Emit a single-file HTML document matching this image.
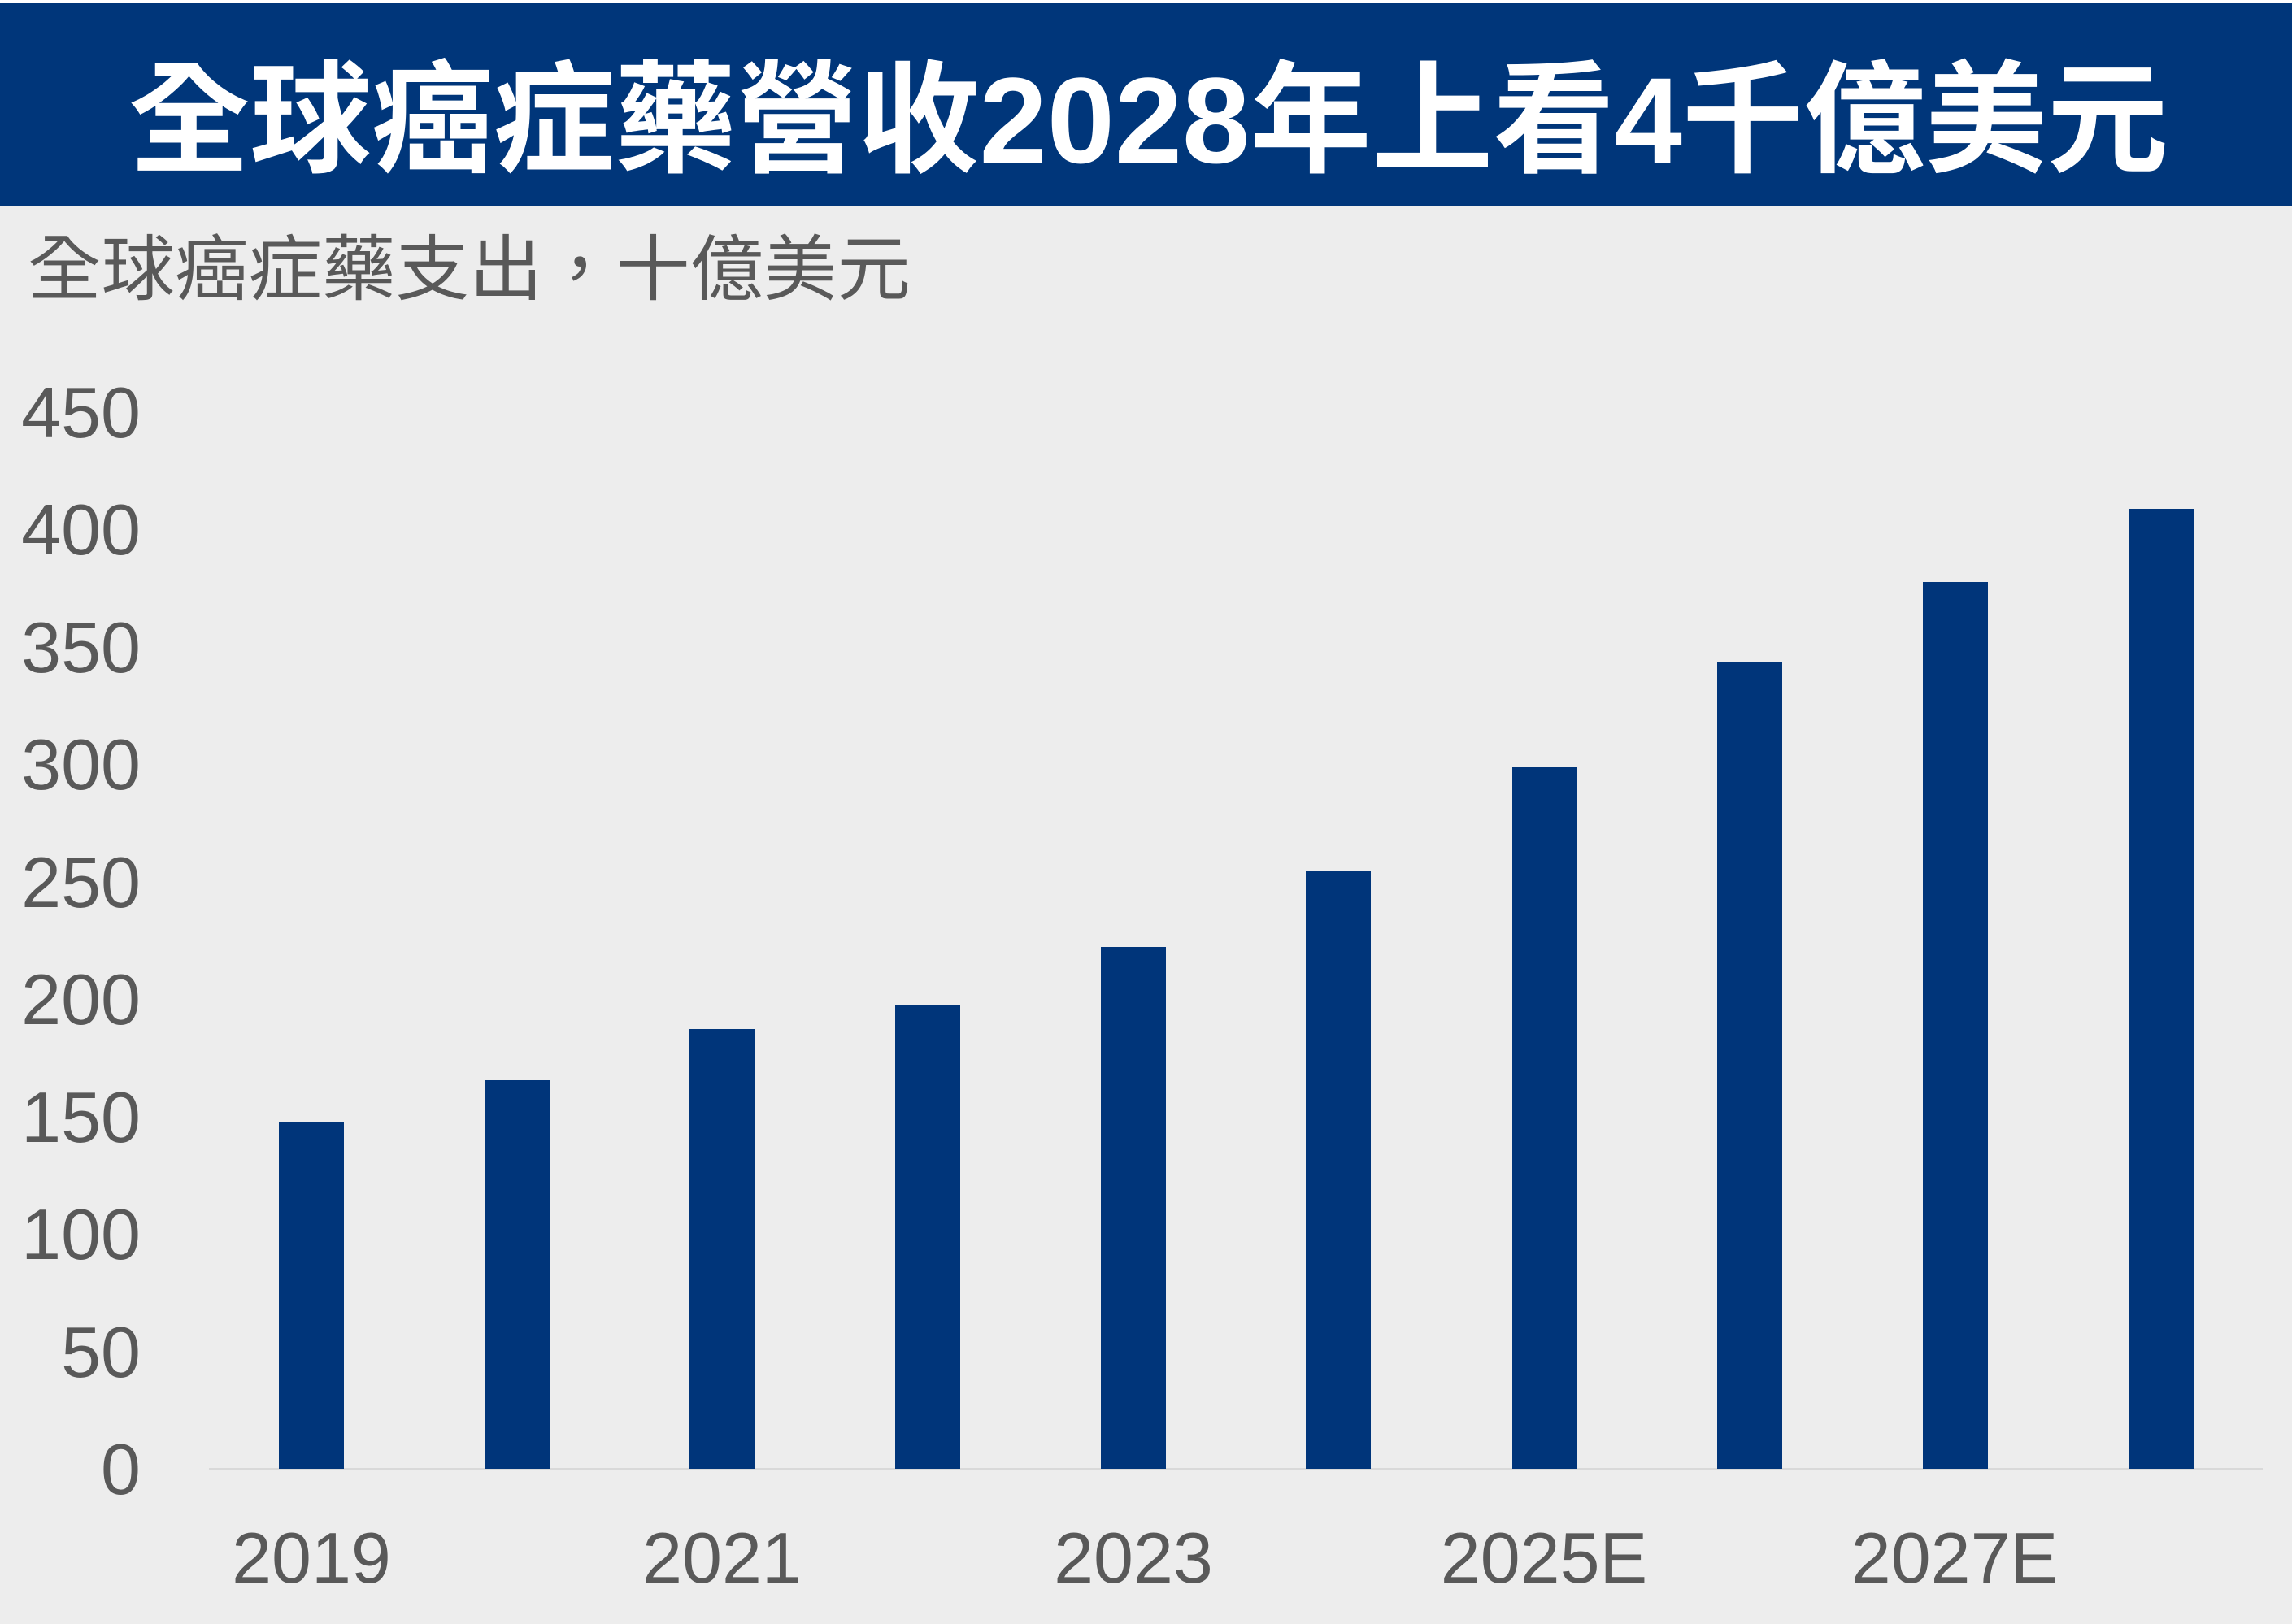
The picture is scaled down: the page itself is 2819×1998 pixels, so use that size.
<!DOCTYPE html>
<html><head><meta charset="utf-8"><style>
html,body{margin:0;padding:0;background:#ededed;}
svg{display:block;}
</style></head><body>
<svg width="2819" height="1998" viewBox="0 0 2819 1998" xmlns="http://www.w3.org/2000/svg">
<rect x="0" y="0" width="2819" height="1998" fill="#ededed"/>
<rect x="0" y="0" width="2819" height="4" fill="#ffffff"/>
<rect x="0" y="4" width="2819" height="249" fill="#00367a"/>
<text x="158" y="200" font-family="'Liberation Sans','Noto Sans CJK TC',sans-serif" font-weight="bold" font-size="150" fill="#ffffff" textLength="2509" lengthAdjust="spacingAndGlyphs">全球癌症藥營收2028年上看4千億美元</text>
<text x="34" y="362" font-family="'Liberation Sans','Noto Sans CJK TC',sans-serif" font-size="88" fill="#595959" textLength="1086" lengthAdjust="spacingAndGlyphs">全球癌症藥支出，十億美元</text>
<g font-family="'Liberation Sans',sans-serif" font-size="88" fill="#595959" text-anchor="end">
<text x="173" y="1838">0</text>
<text x="173" y="1694">50</text>
<text x="173" y="1549">100</text>
<text x="173" y="1405">150</text>
<text x="173" y="1260">200</text>
<text x="173" y="1116">250</text>
<text x="173" y="971">300</text>
<text x="173" y="827">350</text>
<text x="173" y="682">400</text>
<text x="173" y="538">450</text>
</g>
<rect x="257" y="1806" width="2526" height="3" fill="#d9d9d9"/>
<g fill="#00357a">
<rect x="343" y="1381" width="80" height="426"/>
<rect x="596" y="1329" width="80" height="478"/>
<rect x="848" y="1266" width="80" height="541"/>
<rect x="1101" y="1237" width="80" height="570"/>
<rect x="1354" y="1165" width="80" height="642"/>
<rect x="1606" y="1072" width="80" height="735"/>
<rect x="1860" y="944" width="80" height="863"/>
<rect x="2112" y="815" width="80" height="992"/>
<rect x="2365" y="716" width="80" height="1091"/>
<rect x="2618" y="626" width="80" height="1181"/>
</g>
<g font-family="'Liberation Sans',sans-serif" font-size="88" fill="#595959" text-anchor="middle">
<text x="383" y="1947">2019</text>
<text x="888" y="1947">2021</text>
<text x="1394" y="1947">2023</text>
<text x="1899" y="1947">2025E</text>
<text x="2404" y="1947">2027E</text>
</g>
</svg>
</body></html>
